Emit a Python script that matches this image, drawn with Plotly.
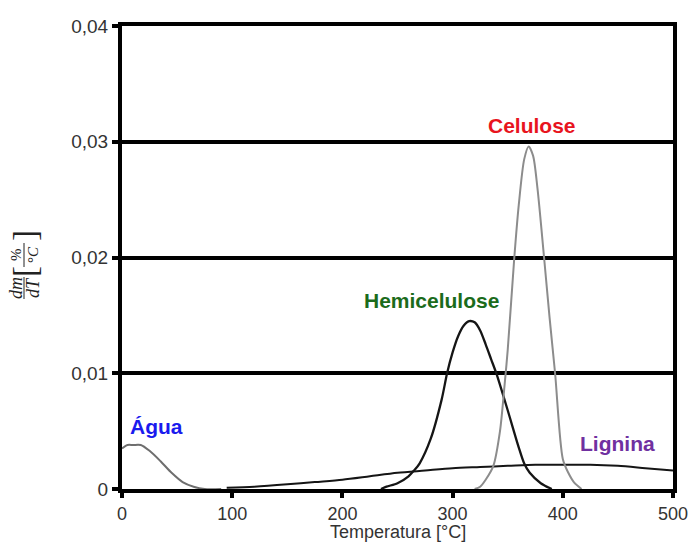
import plotly.graph_objects as go

# DTG curves of biomass components: temperature [°C] vs dm/dT [%/°C]
agua_t = [0, 5, 10, 17, 25, 35, 45, 55, 65, 75, 90]
agua_v = [0.0035, 0.0038, 0.0038, 0.0038, 0.0033, 0.0024, 0.0014, 0.0006, 0.0002, 0.0, 0.0]

hemi_t = [235, 240, 250, 260, 265, 270, 280, 290, 295, 300, 305, 310, 315, 320,
          325, 330, 335, 340, 350, 360, 365, 370, 380, 390]
hemi_v = [0.0, 0.0002, 0.0005, 0.0011, 0.0016, 0.0022, 0.0043, 0.0077, 0.0100, 0.0118,
          0.0132, 0.0141, 0.0145, 0.0144, 0.0137, 0.0125, 0.0112, 0.0099, 0.0068,
          0.0036, 0.0022, 0.0014, 0.0005, 0.0]

celu_t = [320, 325, 330, 337, 343, 347, 350, 356, 360, 365, 369, 373, 377, 383,
          388, 393, 400, 405, 410, 417]
celu_v = [0.0, 0.0002, 0.0008, 0.0020, 0.0050, 0.0088, 0.0120, 0.0200, 0.0245,
          0.0285, 0.0296, 0.0288, 0.0260, 0.0200, 0.0148, 0.0100, 0.0026, 0.0014,
          0.0006, 0.0]

lign_t = [95, 120, 150, 175, 200, 225, 250, 275, 300, 325, 350, 375, 400, 425,
          450, 475, 500]
lign_v = [0.0001, 0.0002, 0.0004, 0.0006, 0.0008, 0.0011, 0.0014, 0.0016, 0.0018,
          0.0019, 0.0020, 0.0021, 0.0021, 0.0021, 0.0020, 0.0018, 0.0016]

x_ticks = [0, 100, 200, 300, 400, 500]
y_ticks = [0, 0.01, 0.02, 0.03, 0.04]
y_tick_text = ["0", "0,01", "0,02", "0,03", "0,04"]

labels = [
    ("Água", 5, 0.0054, "#1a1aee", "left"),
    ("Hemicelulose", 281, 0.01625, "#1b6b1b", "center"),
    ("Celulose", 372, 0.0314, "#e8141e", "center"),
    ("Lignina", 450, 0.0039, "#7030a0", "center"),
]

W, H = 691, 544
ML, MR, MT, MB = 122, 18, 26, 55
PW, PH = W - ML - MR, H - MT - MB


def px(x):
    return (x - ML) / PW


def py(y):
    return (H - MB - y) / PH


fig = go.Figure()
curves = [
    (agua_t, agua_v, "#6e6e6e", 2),
    (lign_t, lign_v, "#151515", 2),
    (hemi_t, hemi_v, "#151515", 2.3),
    (celu_t, celu_v, "#8c8c8c", 2),
]
for t, v, color, width in curves:
    fig.add_trace(go.Scatter(x=t, y=v, mode="lines",
                             line=dict(color=color, width=width,
                                       shape="spline", smoothing=0.8)))

for text, x, y, color, anchor in labels:
    fig.add_annotation(x=x, y=y, text=f"<b>{text}</b>", showarrow=False,
                       xanchor=anchor, yanchor="middle",
                       font=dict(family="Liberation Sans", size=21, color=color))

# x-axis title
fig.add_annotation(xref="paper", yref="paper", x=0.5, y=py(544),
                   text="Temperatura [°C]", showarrow=False,
                   xanchor="center", yanchor="bottom",
                   font=dict(family="Liberation Sans", size=18, color="#333"))

# y-axis title: dm/dT [%/°C] built from rotated pieces
serif = "Liberation Serif"
pieces = [
    ("<i>dm</i>", 16, 288, 18),
    ("<i>dT</i>", 33, 288, 18),
    ("%", 16, 255, 15),
    ("°<i>C</i>", 33, 255, 15),
    ("[", 25, 272, 33),
    ("]", 25, 236, 33),
]
for text, x, y, size in pieces:
    fig.add_annotation(xref="paper", yref="paper", x=px(x), y=py(y), text=text,
                       showarrow=False, textangle=-90, xanchor="center",
                       yanchor="middle",
                       font=dict(family=serif, size=size, color="#222"))
for y0, y1 in [(277, 299), (243, 267)]:
    fig.add_shape(type="line", xref="paper", yref="paper",
                  x0=px(24), x1=px(24), y0=py(y0), y1=py(y1),
                  line=dict(color="#222", width=1))

fig.update_layout(
    width=W, height=H,
    margin=dict(l=ML, r=MR, t=MT, b=MB, autoexpand=False),
    paper_bgcolor="white", plot_bgcolor="white",
    showlegend=False,
    font=dict(family="Liberation Sans", color="#333"),
    xaxis=dict(range=[0, 500], tickvals=x_ticks, ticks="outside", ticklen=5,
               tickwidth=4, tickcolor="black", showline=True, linewidth=4,
               linecolor="black", mirror=True, showgrid=False, zeroline=False,
               automargin=False, tickfont=dict(size=18, color="#333")),
    yaxis=dict(range=[0, 0.04], tickvals=y_ticks, ticktext=y_tick_text,
               ticks="outside", ticklen=6, tickwidth=4, tickcolor="black",
               showline=True, linewidth=4, linecolor="black", mirror=True,
               showgrid=True, gridcolor="black", gridwidth=4, zeroline=False,
               automargin=False, tickfont=dict(size=19, color="#333")),
)

fig.write_html("out.html")
